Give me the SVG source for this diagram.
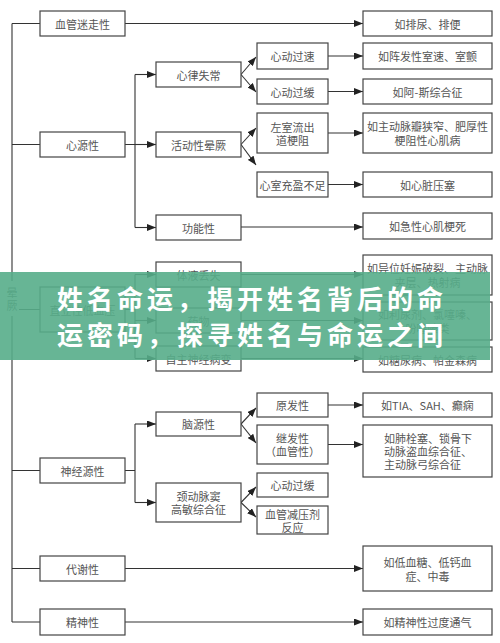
<svg xmlns="http://www.w3.org/2000/svg" width="500" height="643" viewBox="0 0 500 643">
<defs>
<marker id="ah" markerUnits="userSpaceOnUse" markerWidth="9" markerHeight="7" refX="9" refY="3.5" orient="auto">
<path d="M0,0 L9,3.5 L0,7 z" fill="#222"/>
</marker>
<style>
.b{fill:#fff;stroke:#444;stroke-width:1.2}
.t{font-family:"Noto Sans CJK SC","Noto Sans",sans-serif;font-size:11px;fill:#555;text-anchor:middle;dominant-baseline:central}
.l{fill:none;stroke:#333;stroke-width:1.1}
.a{fill:none;stroke:#333;stroke-width:1.1;marker-end:url(#ah)}
.ban{font-family:"Noto Sans CJK SC",sans-serif;font-size:26px;font-weight:bold;fill:#fff;letter-spacing:4px}
</style>
</defs>
<rect width="500" height="643" fill="#fff"/>
<g id="connectors">
<path class="l" d="M12,23.5 V281 M12,316 V622 M12,23.5 H40 M12,144.5 H40 M19,309.5 H40 M12,470.5 H40 M12,568.5 H40 M12,622 H40"/>
<path class="a" d="M125,23.5 H363"/>
<path class="l" d="M125,144.5 H135 M135,74.5 V227.5"/>
<path class="a" d="M135,74.5 H156"/>
<path class="a" d="M135,144.5 H156"/>
<path class="a" d="M135,227.5 H156"/>
<path class="a" d="M241,74.5 L256,57"/>
<path class="a" d="M241,74.5 L256,92"/>
<path class="a" d="M328,56 H363"/>
<path class="a" d="M328,91.5 H363"/>
<path class="a" d="M241,144.5 L256,128"/>
<path class="a" d="M241,144.5 L256,165"/>
<path class="a" d="M328,133 H363"/>
<path class="a" d="M328,184.5 H363"/>
<path class="a" d="M241,227 H363"/>
<path class="l" d="M125,309.5 H135 M135,274.5 V358.5"/>
<path class="a" d="M135,274.5 H156"/>
<path class="a" d="M135,320.5 H156"/>
<path class="a" d="M135,358.5 H156"/>
<path class="a" d="M241,274.5 H363"/>
<path class="a" d="M241,320.5 H363"/>
<path class="a" d="M241,358.5 H363"/>
<path class="l" d="M125,470.5 H135 M135,424 V502.5"/>
<path class="a" d="M135,424 H156"/>
<path class="a" d="M135,502.5 H156"/>
<path class="a" d="M241,424 L256,408"/>
<path class="a" d="M241,424 L256,443"/>
<path class="a" d="M241,502.5 L256,487"/>
<path class="a" d="M241,502.5 L256,517"/>
<path class="a" d="M328,405 H363"/>
<path class="a" d="M328,444.5 H363"/>
<path class="a" d="M125,568.5 H363"/>
<path class="a" d="M125,622 H363"/>
</g>
<g id="syncope"><text class="t" x="12" y="292">晕</text><text class="t" x="12" y="305">厥</text></g>
<g id="n1"><rect class="b" x="40" y="11" width="85" height="25"/><text class="t" x="82.5" y="23.5">血管迷走性</text></g>
<g id="n2"><rect class="b" x="40" y="132" width="85" height="25"/><text class="t" x="82.5" y="144.5">心源性</text></g>
<g id="n3"><rect class="b" x="40" y="287" width="85" height="45"/><text class="t" x="82.5" y="309.5">直立性低血压</text></g>
<g id="n4"><rect class="b" x="40" y="458" width="85" height="25"/><text class="t" x="82.5" y="470.5">神经源性</text></g>
<g id="n5"><rect class="b" x="40" y="556" width="85" height="25"/><text class="t" x="82.5" y="568.5">代谢性</text></g>
<g id="n6"><rect class="b" x="40" y="609" width="85" height="26"/><text class="t" x="82.5" y="622">精神性</text></g>
<g id="b1"><rect class="b" x="156" y="62" width="85" height="25"/><text class="t" x="198.5" y="74.5">心律失常</text></g>
<g id="b2"><rect class="b" x="156" y="132" width="85" height="25"/><text class="t" x="198.5" y="144.5">活动性晕厥</text></g>
<g id="b3"><rect class="b" x="156" y="215" width="85" height="25"/><text class="t" x="198.5" y="227.5">功能性</text></g>
<g id="b4"><rect class="b" x="156" y="262" width="85" height="25"/><text class="t" x="198.5" y="274.5">体液丢失</text></g>
<g id="b5"><rect class="b" x="156" y="308" width="85" height="25"/><text class="t" x="198.5" y="320.5">药物</text></g>
<g id="b6"><rect class="b" x="156" y="346" width="85" height="25"/><text class="t" x="198.5" y="358.5">自主神经病变</text></g>
<g id="b7"><rect class="b" x="156" y="412" width="85" height="24"/><text class="t" x="198.5" y="424">脑源性</text></g>
<g id="b8"><rect class="b" x="156" y="483" width="85" height="39"/><text class="t" x="198.5" y="496">颈动脉窦</text><text class="t" x="198.5" y="509">高敏综合征</text></g>
<g id="c1"><rect class="b" x="257" y="43" width="71" height="26"/><text class="t" x="292.5" y="56">心动过速</text></g>
<g id="c2"><rect class="b" x="257" y="79" width="71" height="25"/><text class="t" x="292.5" y="91.5">心动过缓</text></g>
<g id="c3"><rect class="b" x="257" y="113" width="71" height="40"/><text class="t" x="292.5" y="126.5">左室流出</text><text class="t" x="292.5" y="139.5">道梗阻</text></g>
<g id="c4"><rect class="b" x="257" y="172" width="71" height="25"/><text class="t" x="292.5" y="184.5">心室充盈不足</text></g>
<g id="c5"><rect class="b" x="257" y="393" width="71" height="24"/><text class="t" x="292.5" y="405">原发性</text></g>
<g id="c6"><rect class="b" x="257" y="425" width="71" height="39"/><text class="t" x="292.5" y="438">继发性</text><text class="t" x="292.5" y="451">（血管性）</text></g>
<g id="c7"><rect class="b" x="257" y="473" width="71" height="24"/><text class="t" x="292.5" y="485">心动过缓</text></g>
<g id="c8"><rect class="b" x="257" y="506" width="71" height="28"/><text class="t" x="292.5" y="513.5">血管减压剂</text><text class="t" x="292.5" y="526.5">反应</text></g>
<g id="d1"><rect class="b" x="363" y="11" width="129" height="25"/><text class="t" x="427.5" y="23.5">如排尿、排便</text></g>
<g id="d2"><rect class="b" x="363" y="43" width="129" height="26"/><text class="t" x="427.5" y="56">如阵发性室速、室颤</text></g>
<g id="d3"><rect class="b" x="363" y="79" width="129" height="25"/><text class="t" x="427.5" y="91.5">如阿-斯综合征</text></g>
<g id="d4"><rect class="b" x="363" y="113" width="129" height="40"/><text class="t" x="427.5" y="126">如主动脉瓣狭窄、肥厚性</text><text class="t" x="427.5" y="139.5">梗阻性心肌病</text></g>
<g id="d5"><rect class="b" x="363" y="172" width="129" height="25"/><text class="t" x="427.5" y="184.5">如心脏压塞</text></g>
<g id="d6"><rect class="b" x="363" y="213" width="129" height="26"/><text class="t" x="427.5" y="226">如急性心肌梗死</text></g>
<g id="d7"><rect class="b" x="363" y="255" width="129" height="40"/><text class="t" x="427.5" y="268">如异位妊娠破裂、主动脉</text><text class="t" x="427.5" y="282">夹层、热射病</text></g>
<g id="d8"><rect class="b" x="363" y="302" width="129" height="38"/><text class="t" x="427.5" y="314">如利尿剂、氯噻嗪、</text><text class="t" x="427.5" y="328">吩噻嗪类</text></g>
<g id="d9"><rect class="b" x="363" y="347" width="129" height="25"/><text class="t" x="427.5" y="359.5">如糖尿病、帕金森病</text></g>
<g id="d10"><rect class="b" x="363" y="393" width="129" height="24"/><text class="t" x="427.5" y="405">如TIA、SAH、癫痫</text></g>
<g id="d11"><rect class="b" x="363" y="425" width="129" height="52"/><text class="t" x="384" y="438" style="text-anchor:start">如肺栓塞、锁骨下</text><text class="t" x="384" y="451" style="text-anchor:start">动脉盗血综合征、</text><text class="t" x="384" y="464" style="text-anchor:start">主动脉弓综合征</text></g>
<g id="d12"><rect class="b" x="363" y="546" width="129" height="45"/><text class="t" x="427.5" y="562">如低血糖、低钙血</text><text class="t" x="427.5" y="576">症、中毒</text></g>
<g id="d13"><rect class="b" x="363" y="609" width="129" height="26"/><text class="t" x="427.5" y="622">如精神性过度通气</text></g>
<g id="banner">
<rect x="0" y="272" width="490" height="88" fill="#57ad8a" fill-opacity="0.9"/>
<text class="ban" x="57" y="308.5">姓名命运，揭开姓名背后的命</text>
<text class="ban" x="57" y="345">运密码，探寻姓名与命运之间</text>
</g>
</svg>
